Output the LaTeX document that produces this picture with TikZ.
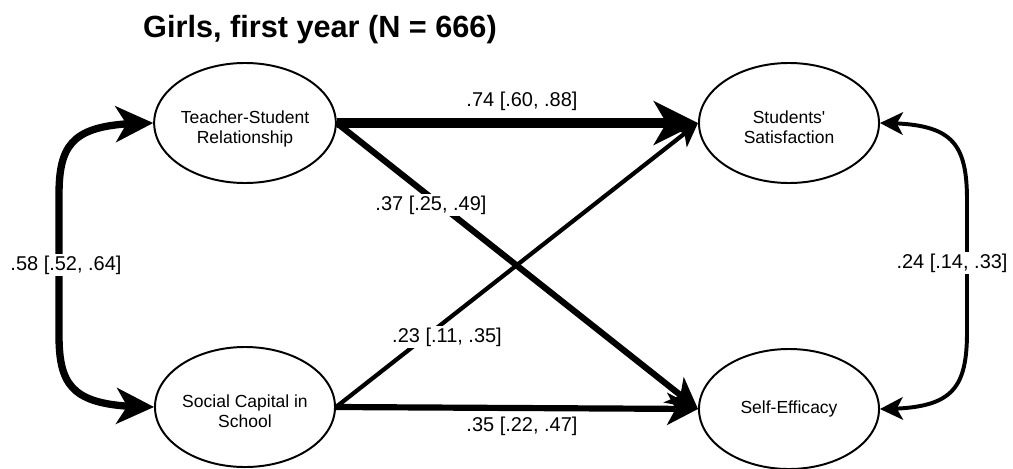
\documentclass[tikz,border=0pt]{standalone}
\usepackage{fontspec}
\setmainfont{Liberation Sans}
\usetikzlibrary{shapes.geometric,arrows.meta,bending}

\newcommand{\twolines}[2]{\raisebox{-4.5pt}[\height][\depth]{\begin{tabular}{@{}c@{}}#1\\#2\end{tabular}}}

\tikzset{
  latent/.style={ellipse, draw, line width=1.4pt, minimum width=4.5cm, minimum height=3cm,
    inner sep=0pt, font=\fontsize{12.45}{14.4}\selectfont},
  coef/.style={fill=white, inner sep=1pt, anchor=base, font=\fontsize{14.2}{17}\selectfont},
  heading/.style={anchor=base, inner sep=0pt, font=\fontsize{21.8}{26}\selectfont\bfseries},
  pathstrong/.style={line width=7.1pt, -{Stealth[length=1.12cm, width=1.12cm, inset=0.33cm, line width=0pt]}},
  pathmid/.style={line width=4.4pt, -{Stealth[length=0.78cm, width=0.82cm, inset=0.22cm, line width=0pt]}},
  pathweak/.style={line width=3pt, -{Stealth[length=0.6cm, width=0.62cm, inset=0.17cm, line width=0pt]}},
  covstrong/.style={line width=5.2pt, {Stealth[length=0.95cm, width=0.92cm, inset=0.28cm, line width=0pt]}-{Stealth[length=0.95cm, width=0.92cm, inset=0.28cm, line width=0pt]}},
  covweak/.style={line width=2.8pt, {Stealth[length=0.58cm, width=0.58cm, inset=0.16cm, line width=0pt]}-{Stealth[length=0.58cm, width=0.58cm, inset=0.16cm, line width=0pt]}}
}

\begin{document}
\begin{tikzpicture}[x=0.025cm, y=-0.025cm]
  \useasboundingbox (0,0) rectangle (1013,468); % canvas
  \node[heading] (title) at (320,37) {Girls, first year (N = 666)}; % title

  % the four variables
  \node[latent] (TS) at (245,123) {\twolines{Teacher-Student}{Relationship}};
  \node[latent] (SC) at (245,407) {\twolines{Social Capital in}{School}};
  \node[latent] (SS) at (789,123) {\twolines{Students\textquotesingle}{Satisfaction}};
  \node[latent] (SE) at (789,409) {Self-Efficacy};

  % bends of the two correlations
  \coordinate (lefttop) at (59,195);
  \coordinate (leftbot) at (59,335);
  \coordinate (righttop) at (967,200);
  \coordinate (rightbot) at (967,332);

  % paths
  \draw[pathstrong] (TS.east) -- (SS.west); % TS to SS
  \draw[pathweak] (SC.east) -- (SS.west); % SC to SS
  \draw[pathmid] (TS.east) -- (SE.west); % TS to SE
  \draw[pathmid] (SC.east) -- (SE.west); % SC to SE

  % correlations
  \draw[covstrong] (TS.west) .. controls (75,123) and (59,140) .. (lefttop) -- (leftbot) .. controls (59,390) and (75,407) .. (SC.west);
  \draw[covweak] (SS.east) .. controls (950,123) and (967,140) .. (righttop) -- (rightbot) .. controls (967,392) and (950,409) .. (SE.east);

  % estimates
  \node[coef] (c1) at (66,270) {.58 [.52, .64]};
  \node[coef] (c2) at (952,268) {.24 [.14, .33]};
  \node[coef] (c3) at (522,106) {.74 [.60, .88]};
  \node[coef] (c4) at (431,210) {.37 [.25, .49]};
  \node[coef] (c5) at (447,342) {.23 [.11, .35]};
  \node[coef] (c6) at (522,431) {.35 [.22, .47]};
\end{tikzpicture}
\end{document}
